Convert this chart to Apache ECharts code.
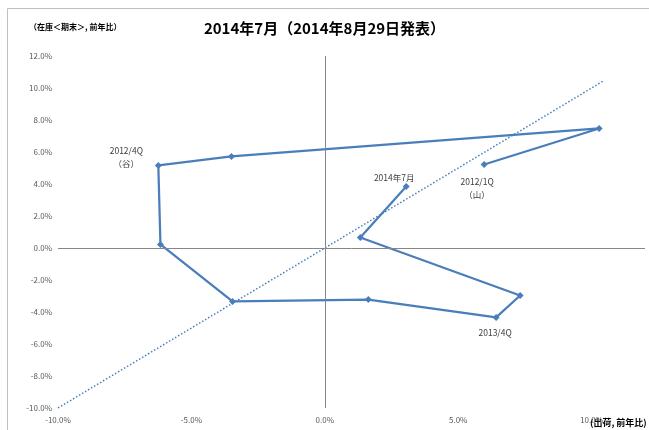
<!DOCTYPE html>
<html><head><meta charset="utf-8">
<script src="https://cdn.jsdelivr.net/npm/echarts@6/dist/echarts.min.js"></script>
<style>html,body{margin:0;padding:0;background:#fff}#c{width:649px;height:430px}</style>
</head><body><div id="c"></div>
<script>
var quarters = ['2012/1Q','2012/2Q','2012/3Q','2012/4Q','2013/1Q','2013/2Q','2013/3Q','2013/4Q','2014/1Q','2014/2Q','2014年7月'];
var shipments = [5.97, 10.28, -3.50, -6.24, -6.16, -3.46, 1.63, 6.42, 7.32, 1.33, 3.05];
var inventory = [5.22, 7.47, 5.72, 5.16, 0.22, -3.34, -3.22, -4.34, -2.97, 0.66, 3.84];
var refX = [-10, 10.45];
var refY = [-10, 10.45];
var annotations = {
  '2012/1Q': {text: '2012/1Q\n（山）', offset: [-7, 23.5]},
  '2012/4Q': {text: '2012/4Q\n（谷）', offset: [-32, -8.5]},
  '2013/4Q': {text: '2013/4Q', offset: [-1, 15]},
  '2014年7月': {text: '2014年7月', offset: [-12, -9]}
};
var FONT = '"Noto Sans CJK JP", "Noto Sans", sans-serif';
var BLUE = '#4a7ebb';

var mainData = quarters.map(function (q, i) {
  var item = {value: [shipments[i], inventory[i]], name: q};
  if (annotations[q]) {
    item.label = {show: true, position: 'inside', offset: annotations[q].offset,
      formatter: annotations[q].text, color: '#404040', fontSize: 8.5, fontFamily: FONT, lineHeight: 13, align: 'center'};
  }
  return item;
});

var chart = echarts.init(document.getElementById('c'), null, {renderer: 'canvas'});
chart.setOption({
  animation: false,
  backgroundColor: '#fff',
  title: {
    text: '2014年7月（2014年8月29日発表）', left: 'center', top: 16,
    textStyle: {fontSize: 15, fontWeight: 'bold', color: '#000', fontFamily: FONT}
  },
  graphic: [
    {type: 'rect', shape: {x: 7.5, y: 8.5, width: 660, height: 440}, style: {fill: 'none', stroke: '#bfbfbf', lineWidth: 1}, silent: true},
    {type: 'text', left: 29, top: 23, style: {text: '（在庫＜期末＞, 前年比）', font: 'bold 8px ' + FONT, fill: '#000'}},
    {type: 'text', left: 590, top: 418, style: {text: '(出荷, 前年比)', font: 'bold 9px ' + FONT, fill: '#000'}}
  ],
  grid: {left: 58, right: 4, top: 56, bottom: 22, containLabel: false},
  xAxis: {
    type: 'value', min: -10, max: 12, interval: 5,
    axisLine: {show: false, onZero: false}, axisTick: {show: false}, splitLine: {show: false},
    axisLabel: {
      margin: 8, fontSize: 8, color: '#595959', fontFamily: FONT,
      formatter: function (v) { return (Math.abs(v % 5) < 1e-9) ? v.toFixed(1) + '%' : ''; }
    }
  },
  yAxis: {
    type: 'value', min: -10, max: 12, interval: 2,
    axisLine: {show: false, onZero: false}, axisTick: {show: false}, splitLine: {show: false},
    axisLabel: {margin: 6, fontSize: 8, color: '#595959', fontFamily: FONT,
      formatter: function (v) { return v.toFixed(1) + '%'; }}
  },
  series: [
    {
      type: 'line', silent: true, symbol: 'none',
      data: [[refX[0], refY[0]], [refX[1], refY[1]]],
      lineStyle: {color: BLUE, width: 1.5, type: [1.5, 2]},
      markLine: {
        silent: true, symbol: 'none', label: {show: false},
        lineStyle: {color: '#868686', width: 1, type: 'solid'},
        data: [{xAxis: 0}, {yAxis: 0}]
      },
      z: 1
    },
    {
      type: 'line', silent: true,
      data: mainData,
      symbol: 'diamond', symbolSize: 7,
      itemStyle: {color: BLUE},
      lineStyle: {color: BLUE, width: 2.25},
      z: 3
    }
  ]
});
</script></body></html>
